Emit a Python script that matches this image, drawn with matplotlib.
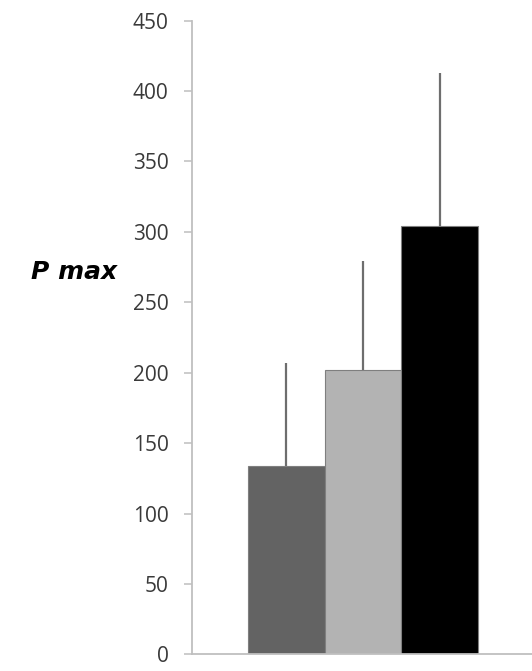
import matplotlib.pyplot as plt
import numpy as np

# bar heights and upper ends of the error bars
groups = ['A', 'B', 'C']
values = [134, 202, 304]
err_top = [207, 279, 413]
colors = ['#636363', '#b3b3b3', '#000000']
yticks = [0, 50, 100, 150, 200, 250, 300, 350, 400, 450]

fig = plt.figure(figsize=(5.32, 6.71), dpi=100)
ax = fig.add_axes([192.3 / 532, 16.7 / 671, 1 - 192.3 / 532, 633.6 / 671])

x = np.arange(len(groups))
ax.bar(x, values, width=1.0, color=colors, edgecolor='#7f7f7f', linewidth=0.8, zorder=2)
up = np.array(err_top) - np.array(values)
ax.errorbar(x, values, yerr=[np.zeros(len(x)), up], fmt='none',
            ecolor='#6e6e6e', elinewidth=1.6, capsize=0, zorder=3)

ax.set_xlim(-1.226, 3.203)
ax.set_ylim(0, 450)
ax.set_yticks(yticks)
ax.set_xticks([])

for s in ['top', 'right']:
    ax.spines[s].set_visible(False)
for s in ['left', 'bottom']:
    ax.spines[s].set_color('#bfbfbf')
    ax.spines[s].set_linewidth(1.3)

ax.tick_params(axis='y', direction='out', length=6, width=1.1, color='#bfbfbf',
               pad=11, labelsize=15, labelcolor='#3a3a3a')
for lab in ax.get_yticklabels():
    lab.set_family('Open Sans')

fig.text(74 / 532, 1 - 272 / 671, 'P max', ha='center', va='center',
         fontsize=18, fontweight='bold', fontstyle='italic', family='DejaVu Sans')

fig.savefig('out.png', dpi=100)
